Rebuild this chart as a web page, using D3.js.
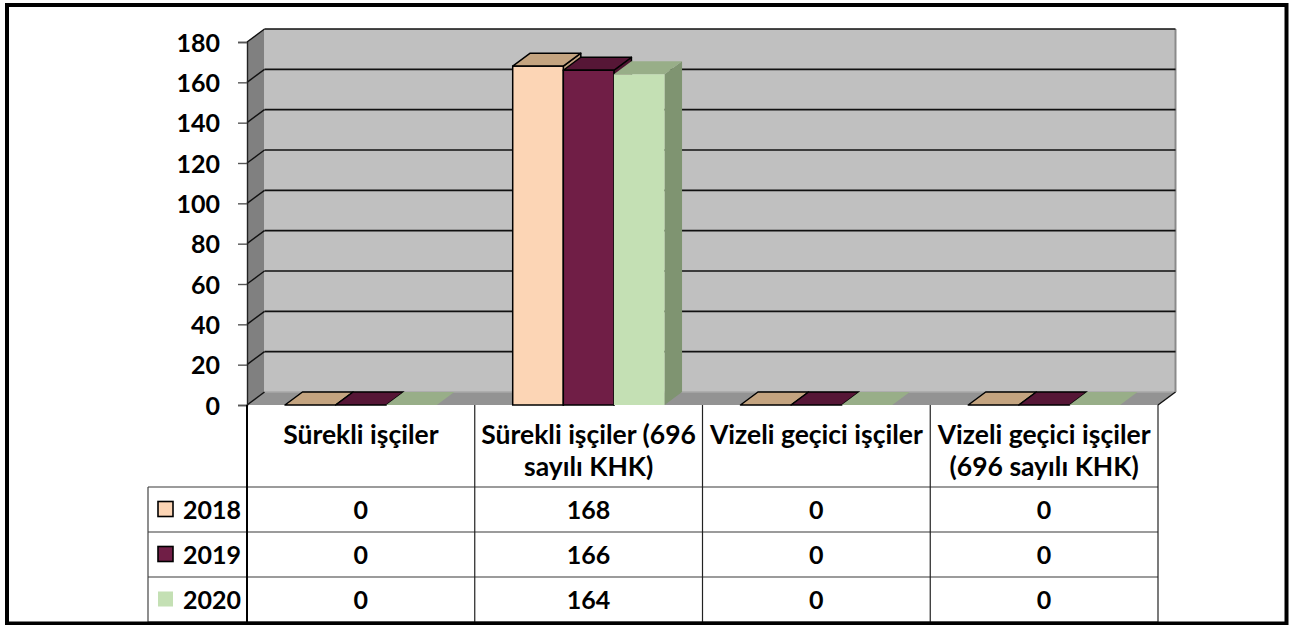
<!DOCTYPE html>
<html>
<head>
<meta charset="utf-8">
<script src="https://cdn.jsdelivr.net/npm/d3@7"></script>
<style>
  html, body { margin: 0; padding: 0; background: #ffffff; }
  svg { display: block; }
  text { font-family: Lato, "Open Sans", sans-serif; font-weight: 700; fill: #000; }
</style>
</head>
<body>
<svg id="chart" width="1290" height="625"></svg>
<script>
// ---- data ----
const categories = [
  ["Sürekli işçiler"],
  ["Sürekli işçiler (696", "sayılı KHK)"],
  ["Vizeli geçici işçiler"],
  ["Vizeli geçici işçiler", "(696 sayılı KHK)"]
];
const years = ["2018", "2019", "2020"];
const values2018 = [0, 168, 0, 0];
const values2019 = [0, 166, 0, 0];
const values2020 = [0, 164, 0, 0];
const yTicks = [0, 20, 40, 60, 80, 100, 120, 140, 160, 180];

const seriesValues = [values2018, values2019, values2020];
const styles = [
  { front: "#FCD5B5", top: "#C4A480", side: "#BE9F7E", stroke: "#000" },
  { front: "#701E46", top: "#561636", side: "#4A122E", stroke: "#000" },
  { front: "#C4E0B4", top: "#98AE88", side: "#7F9471", stroke: "none" }
];

const svg = d3.select("#chart");
const catKeys = categories.map((c, i) => "c" + i);

// ---- geometry ----
const plotLeft = 247, plotRight = 1158, yTop = 42, yBottom = 405;
const DX = 17.5, DY = -13;

const x = d3.scaleBand().domain(catKeys).range([plotLeft, plotRight]).paddingInner(0).paddingOuter(0);
const x1 = d3.scaleBand().domain(years).range([0, x.bandwidth()]).paddingInner(0).paddingOuter(0.75);
const y = d3.scaleLinear().domain([0, 180]).range([yBottom, yTop]);

const poly = pts => pts.map(p => p.join(",")).join(" ");

// side wall
svg.append("polygon")
  .attr("points", poly([[plotLeft, y(180)], [plotLeft + DX, y(180) + DY], [plotLeft + DX, y(0) + DY], [plotLeft, y(0)]]))
  .attr("fill", "#808080");
// back wall
svg.append("rect")
  .attr("x", plotLeft + DX).attr("y", y(180) + DY)
  .attr("width", plotRight - plotLeft).attr("height", y(0) - y(180))
  .attr("fill", "#C0C0C0");
// back wall right edge shadow
svg.append("line")
  .attr("x1", plotRight + DX).attr("x2", plotRight + DX)
  .attr("y1", y(180) + DY).attr("y2", y(0) + DY)
  .attr("stroke", "#8a8a8a").attr("stroke-width", 2);
// floor
svg.append("polygon")
  .attr("points", poly([[plotLeft, y(0)], [plotLeft + DX, y(0) + DY], [plotRight + DX, y(0) + DY], [plotRight, y(0)]]))
  .attr("fill", "#939393");
svg.append("line")
  .attr("x1", plotLeft + DX).attr("x2", plotRight + DX)
  .attr("y1", y(0) + DY).attr("y2", y(0) + DY)
  .attr("stroke", "#a8a8a8").attr("stroke-width", 1.5);

// gridlines
yTicks.forEach(v => {
  if (v > 0) {
    svg.append("line")
      .attr("x1", plotLeft + DX).attr("x2", plotRight + DX)
      .attr("y1", y(v) + DY).attr("y2", y(v) + DY)
      .attr("stroke", "#111").attr("stroke-width", 1.6);
  }
  svg.append("line")
    .attr("x1", plotLeft).attr("x2", plotLeft + DX)
    .attr("y1", y(v)).attr("y2", y(v) + DY)
    .attr("stroke", "#111").attr("stroke-width", 1.4);
});
// floor right edge
svg.append("line")
  .attr("x1", plotRight).attr("x2", plotRight + DX)
  .attr("y1", y(0)).attr("y2", y(0) + DY)
  .attr("stroke", "#111").attr("stroke-width", 1.4);

// y axis
const yAxis = d3.axisLeft(y).tickValues(yTicks).tickSize(9).tickPadding(18).tickFormat(d3.format("d"));
const gy = svg.append("g").attr("transform", `translate(${plotLeft},0)`).call(yAxis);
gy.select(".domain").attr("stroke", "#222").attr("stroke-width", 1.4);
gy.selectAll(".tick line").attr("stroke", "#555").attr("stroke-width", 1.4);
gy.selectAll(".tick text")
  .attr("font-size", 25).attr("font-family", "Lato, sans-serif").attr("font-weight", 700)
  .attr("fill", "#000").attr("dy", "0.36em");

// bars
catKeys.forEach((ck, ci) => {
  years.forEach((yr, si) => {
    const v = seriesValues[si][ci];
    const st = styles[si];
    const x0 = x(ck) + x1(yr), w = x1.bandwidth();
    const yv = y(v), y0 = y(0);
    const g = svg.append("g");
    if (v > 0) {
      g.append("polygon")
        .attr("points", poly([[x0 + w, yv], [x0 + w + DX, yv + DY], [x0 + w + DX, y0 + DY], [x0 + w, y0]]))
        .attr("fill", st.side).attr("stroke", st.stroke).attr("stroke-width", 1.5).attr("stroke-linejoin", "round");
    }
    g.append("polygon")
      .attr("points", poly([[x0, yv], [x0 + DX, yv + DY], [x0 + w + DX, yv + DY], [x0 + w, yv]]))
      .attr("fill", st.top).attr("stroke", st.stroke).attr("stroke-width", 1.5).attr("stroke-linejoin", "round");
    if (v > 0) {
      g.append("rect")
        .attr("x", x0).attr("y", yv).attr("width", w).attr("height", y0 - yv)
        .attr("fill", st.front).attr("stroke", st.stroke).attr("stroke-width", 1.5);
    }
  });
});

// ---- data table ----
const tableLeft = 148, headerBottom = 487, rowH = 45;
const tableBottom = headerBottom + rowH * years.length;
const gT = svg.append("g");
d3.range(years.length + 1).forEach(i => {
  gT.append("line")
    .attr("x1", tableLeft).attr("x2", plotRight)
    .attr("y1", headerBottom + i * rowH).attr("y2", headerBottom + i * rowH)
    .attr("stroke", "#7a7a7a").attr("stroke-width", 1.6);
});
gT.append("line").attr("x1", tableLeft).attr("x2", tableLeft)
  .attr("y1", headerBottom).attr("y2", tableBottom).attr("stroke", "#444").attr("stroke-width", 1.2);
catKeys.concat(["end"]).forEach((ck, i) => {
  const xx = i < catKeys.length ? x(ck) : plotRight;
  gT.append("line").attr("x1", xx).attr("x2", xx)
    .attr("y1", y(0)).attr("y2", tableBottom)
    .attr("stroke", i === 0 ? "#000" : "#222").attr("stroke-width", i === 0 ? 2 : 1.2);
});
// header text
catKeys.forEach((ck, ci) => {
  const t = gT.append("text")
    .attr("x", x(ck) + x.bandwidth() / 2).attr("y", 444)
    .attr("text-anchor", "middle").attr("font-size", 26.5);
  categories[ci].forEach((line, li) => {
    t.append("tspan").attr("x", x(ck) + x.bandwidth() / 2).attr("y", 444 + li * 32).text(line);
  });
});
// rows
years.forEach((yr, si) => {
  const cy = headerBottom + si * rowH + rowH / 2;
  gT.append("rect")
    .attr("x", 158).attr("y", cy - 8).attr("width", 15).attr("height", 15)
    .attr("fill", styles[si].front)
    .attr("stroke", styles[si].stroke).attr("stroke-width", 1.6);
  gT.append("text").attr("x", 183).attr("y", cy + 9)
    .attr("font-size", 25).text(yr);
  catKeys.forEach((ck, ci) => {
    gT.append("text")
      .attr("x", x(ck) + x.bandwidth() / 2).attr("y", cy + 9)
      .attr("text-anchor", "middle").attr("font-size", 25)
      .text(seriesValues[si][ci]);
  });
});

// outer frame
svg.append("rect")
  .attr("x", 7).attr("y", 5).attr("width", 1279.5).attr("height", 618.5)
  .attr("fill", "none").attr("stroke", "#000").attr("stroke-width", 4);
</script>
</body>
</html>
